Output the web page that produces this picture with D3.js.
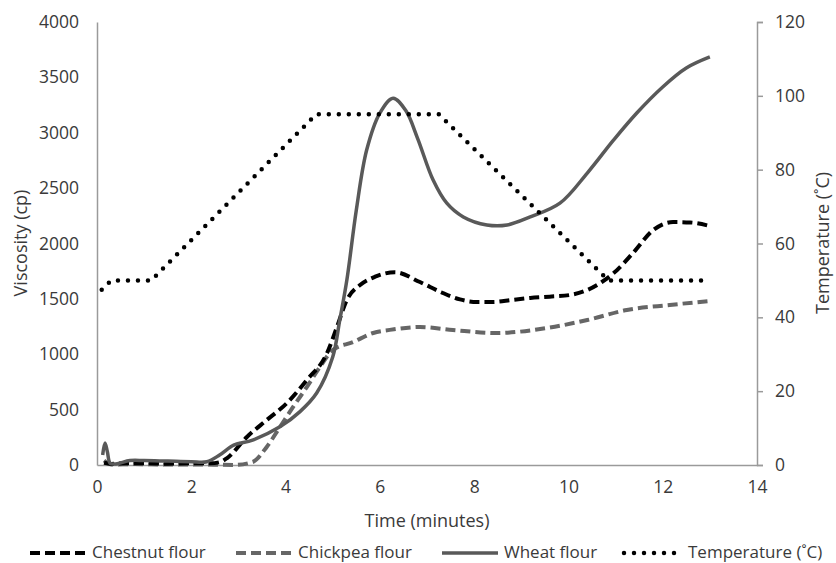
<!DOCTYPE html>
<html><head><meta charset="utf-8">
<script src="https://cdn.jsdelivr.net/npm/d3@7"></script>
<style>
body{margin:0;background:#fff;}
text{font-family:"Open Sans",sans-serif;fill:#3a3a3a;}
</style></head>
<body>
<svg id="c" width="836" height="563"></svg>
<script>
const xTicks = [0,2,4,6,8,10,12,14];
const yTicks = [0,500,1000,1500,2000,2500,3000,3500,4000];
const y2Ticks = [0,20,40,60,80,100,120];

const chestnutT = [0.15,0.3,0.6,1.0,1.5,2.0,2.4,2.6,2.76,3.18,3.6,4.03,4.45,4.88,5.09,5.3,5.58,5.9,6.32,6.85,7.3,7.7,8.06,8.4,8.8,9.19,9.6,10.03,10.4,10.7,10.96,11.37,11.8,12.22,12.58,13.0];
const chestnutV = [20,10,15,15,12,15,15,25,63,253,406,560,767,1011,1246,1490,1625,1700,1740,1652,1560,1495,1472,1472,1490,1508,1520,1535,1580,1650,1733,1914,2122,2194,2190,2158];

const chickpeaT = [0.15,0.3,0.8,1.5,2.0,2.5,2.9,3.3,3.6,3.88,4.16,4.45,4.73,5.0,5.43,5.86,6.3,6.85,7.55,8.48,9.54,10.4,11.24,12.15,13.0];
const chickpeaV = [40,5,8,5,5,3,0,27,163,343,524,704,885,1038,1110,1192,1225,1246,1219,1192,1237,1309,1400,1445,1481];

const wheatT = [0.12,0.17,0.22,0.28,0.4,0.7,1.0,1.5,2.0,2.33,2.6,2.9,3.3,3.88,4.3,4.66,5.0,5.15,5.3,5.5,5.72,6.0,6.28,6.55,6.8,7.13,7.42,7.77,8.27,8.7,9.19,9.82,10.4,10.96,11.45,12.0,12.5,13.0];
const wheatV = [90,199,120,15,10,40,40,35,30,30,90,180,225,345,480,650,975,1310,1670,2300,2844,3178,3312,3200,2950,2573,2364,2240,2167,2167,2240,2364,2636,2935,3178,3413,3584,3684];

const tempT = [0.1,0.3,1.15,4.65,7.25,10.85,13.0];
const tempV = [47.5,50,50,95,95,50,50];

const seriesNames = ["Chestnut flour","Chickpea flour","Wheat flour","Temperature (˚C)"];

const svg = d3.select("#c");
const x = d3.scaleLinear().domain([0,14]).range([97,757]);
const y = d3.scaleLinear().domain([0,4000]).range([465,22]);
const y2 = d3.scaleLinear().domain([0,120]).range([465,22]);

const axisCol = "#9a9a9a";
const fmt = d3.format("d");
// left axis
const gl = svg.append("g").attr("transform","translate(97,0)")
  .call(d3.axisLeft(y).tickValues(yTicks).tickFormat(fmt).tickSize(0).tickPadding(18));
gl.select(".domain").attr("stroke",axisCol).attr("stroke-width",1.5);
gl.selectAll("text").style("font-size","17.5px").style("fill","#3a3a3a").style("font-family","Open Sans");
// bottom axis
const gb = svg.append("g").attr("transform","translate(0,465)")
  .call(d3.axisBottom(x).tickValues(xTicks).tickFormat(fmt).tickSize(0).tickPadding(16));
gb.select(".domain").attr("stroke",axisCol).attr("stroke-width",1.5);
gb.selectAll("text").style("font-size","17.5px").style("fill","#3a3a3a").style("font-family","Open Sans");
// right axis
const gr = svg.append("g").attr("transform","translate(757,0)")
  .call(d3.axisRight(y2).tickValues(y2Ticks).tickFormat(fmt).tickSize(6).tickPadding(12).tickSizeOuter(6));
gr.select(".domain").attr("stroke",axisCol).attr("stroke-width",1.5);
gr.selectAll(".tick line").attr("stroke",axisCol).attr("stroke-width",1.5);
gr.selectAll("text").style("font-size","17.5px").style("fill","#3a3a3a").style("font-family","Open Sans");

// axis titles
svg.append("text").attr("transform","translate(22,243) rotate(-90)").attr("text-anchor","middle")
  .attr("dominant-baseline","middle").style("font-size","18px").text("Viscosity (cp)");
svg.append("text").attr("transform","translate(824,243) rotate(-90)").attr("text-anchor","middle")
  .attr("dominant-baseline","middle").style("font-size","18px").text("Temperature (˚C)");
svg.append("text").attr("x",427).attr("y",522).attr("text-anchor","middle")
  .attr("dominant-baseline","middle").style("font-size","18px").text("Time (minutes)");

const styles = [
  {col:"#000", w:4, dash:"10,5", cap:"butt"},
  {col:"#666", w:4, dash:"10,5", cap:"butt"},
  {col:"#595959", w:3.5, dash:null, cap:"butt"},
  {col:"#000", w:4.5, dash:"0,10", cap:"round"}
];

const line = d3.line().x(d=>x(d[0])).y(d=>y(d[1])).curve(d3.curveMonotoneX);
const wline = d3.line().x(d=>x(d[0])).y(d=>y(d[1])).curve(d3.curveCatmullRom.alpha(0.5));
const tline = d3.line().x(d=>x(d[0])).y(d=>y2(d[1]));

function draw(T,V,st,gen){
  const p = svg.append("path").datum(T.map((t,i)=>[t,V[i]])).attr("d",gen)
    .attr("fill","none").attr("stroke",st.col).attr("stroke-width",st.w)
    .attr("stroke-linecap",st.cap).attr("stroke-linejoin","round");
  if(st.dash) p.attr("stroke-dasharray",st.dash);
}
draw(chickpeaT,chickpeaV,styles[1],line);
draw(chestnutT,chestnutV,styles[0],line);
draw(wheatT,wheatV,styles[2],wline);
draw(tempT,tempV,styles[3],tline);

// legend
const leg = [
  {x1:30,x2:88,tx:92},
  {x1:236,x2:293,tx:298},
  {x1:442,x2:498,tx:504},
  {x1:624,x2:684,tx:688}
];
leg.forEach((L,i)=>{
  const st = styles[i];
  const l = svg.append("line").attr("x1",L.x1).attr("x2",L.x2).attr("y1",553).attr("y2",553)
    .attr("stroke",st.col).attr("stroke-width",st.w).attr("stroke-linecap",st.cap);
  if(st.dash) l.attr("stroke-dasharray",st.dash);
  svg.append("text").attr("x",L.tx).attr("y",553).attr("dominant-baseline","middle")
    .style("font-size","17px").text(seriesNames[i]);
});
</script>
</body></html>
